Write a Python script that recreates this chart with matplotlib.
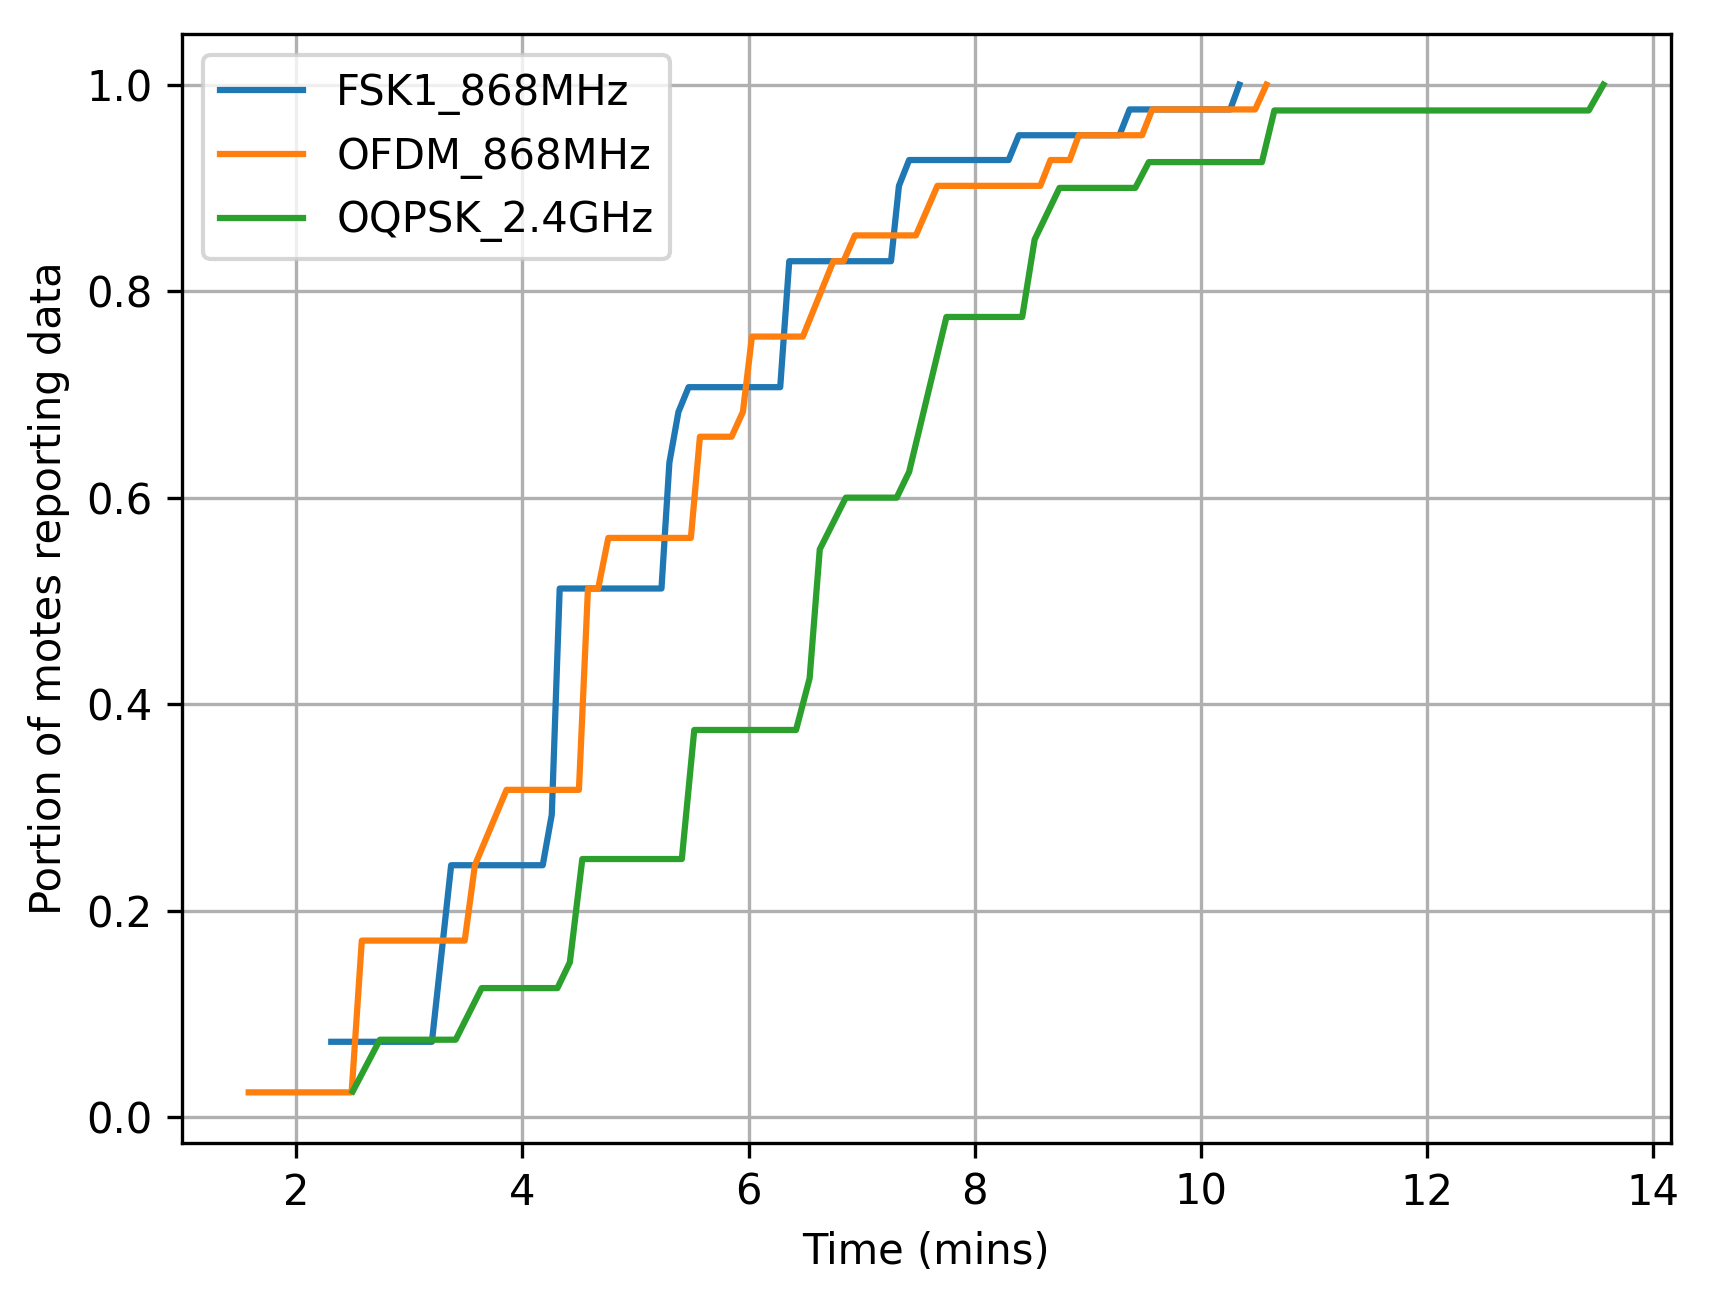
import matplotlib
matplotlib.use('Agg')
import matplotlib.pyplot as plt

fsk_t = [2.31, 3.20, 3.37, 4.18, 4.26, 4.33, 5.23, 5.30, 5.38, 5.47, 6.28, 6.36,
         7.26, 7.33, 7.42, 8.30, 8.39, 9.28, 9.37, 10.26, 10.34]
fsk_v = [0.073, 0.073, 0.244, 0.244, 0.293, 0.512, 0.512, 0.634, 0.683, 0.707, 0.707, 0.829,
         0.829, 0.902, 0.927, 0.927, 0.951, 0.951, 0.976, 0.976, 1.0]

ofdm_t = [1.58, 2.49, 2.58, 3.49, 3.58, 3.86, 4.50, 4.58, 4.67, 4.76, 5.49, 5.57, 5.85,
          5.95, 6.03, 6.48, 6.75, 6.84, 6.94, 7.48, 7.67, 8.58, 8.67, 8.84, 8.92, 9.48,
          9.57, 10.48, 10.58]
ofdm_v = [0.024, 0.024, 0.171, 0.171, 0.244, 0.317, 0.317, 0.512, 0.512, 0.561, 0.561, 0.659, 0.659,
          0.683, 0.756, 0.756, 0.829, 0.829, 0.854, 0.854, 0.902, 0.902, 0.927, 0.927, 0.951, 0.951,
          0.976, 0.976, 1.0]

oqpsk_t = [2.50, 2.74, 3.41, 3.64, 4.31, 4.42, 4.53, 5.41, 5.52, 6.42, 6.54, 6.63, 6.86,
           7.31, 7.42, 7.75, 8.42, 8.53, 8.75, 9.42, 9.54, 10.54, 10.65, 13.43, 13.56]
oqpsk_v = [0.025, 0.075, 0.075, 0.125, 0.125, 0.15, 0.25, 0.25, 0.375, 0.375, 0.425, 0.55, 0.6,
           0.6, 0.625, 0.775, 0.775, 0.85, 0.9, 0.9, 0.925, 0.925, 0.975, 0.975, 1.0]

fig = plt.figure(figsize=(1709 / 300, 1298 / 300), dpi=300)
ax = fig.add_subplot(111)
fig.subplots_adjust(left=0.1065, right=0.9776, top=0.9736, bottom=0.1196)

ax.plot(fsk_t, fsk_v, label='FSK1_868MHz')
ax.plot(ofdm_t, ofdm_v, label='OFDM_868MHz')
ax.plot(oqpsk_t, oqpsk_v, label='OQPSK_2.4GHz')

ax.set_xlim(0.99, 14.155)
ax.grid(True)
ax.legend(loc='upper left')
ax.set_xlabel('Time (mins)')
ax.set_ylabel('Portion of motes reporting data')

fig.savefig('out.png', dpi=300)
